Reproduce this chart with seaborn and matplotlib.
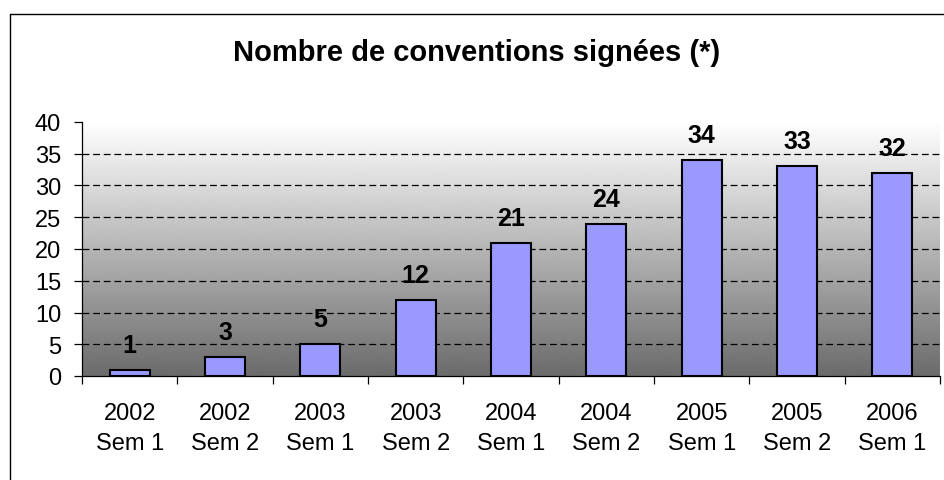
import matplotlib
matplotlib.use('Agg')
import matplotlib.pyplot as plt
from matplotlib.lines import Line2D
import seaborn as sns
import numpy as np
import pandas as pd

# chart data
years = ['2002', '2002', '2003', '2003', '2004', '2004', '2005', '2005', '2006']
semesters = ['Sem 1', 'Sem 2', 'Sem 1', 'Sem 2', 'Sem 1', 'Sem 2', 'Sem 1', 'Sem 2', 'Sem 1']
conventions = [1, 3, 5, 12, 21, 24, 34, 33, 32]
y_ticks = [0, 5, 10, 15, 20, 25, 30, 35, 40]
title = 'Nombre de conventions signées (*)'

sns.set_theme(style='white')
plt.rcParams['font.family'] = ['Liberation Sans', 'DejaVu Sans']
plt.rcParams['text.color'] = 'black'
plt.rcParams['xtick.color'] = 'black'
plt.rcParams['ytick.color'] = 'black'

df = pd.DataFrame({
    'periode': [f'{y}\n{s}' for y, s in zip(years, semesters)],
    'n': conventions,
})

fig = plt.figure(figsize=(9.44, 4.81), dpi=100)
ax = fig.add_axes([82 / 944, 1 - 377 / 481, (940 - 82) / 944, (377 - 123) / 481])

# gradient background, white at the top to dark grey at the bottom
grad = np.linspace(0.42, 1.0, 256).reshape(-1, 1)
ax.imshow(grad, cmap='gray', vmin=0, vmax=1, extent=[0, 1, 0, 1], transform=ax.transAxes,
          aspect='auto', origin='lower', zorder=0)

sns.barplot(data=df, x='periode', y='n', color='#9999ff', saturation=1, width=0.42,
            edgecolor='black', linewidth=1.5, ax=ax, zorder=3)

for yv in y_ticks[1:-1]:
    ax.axhline(yv, color='black', lw=0.9, linestyle=(0, (5.5, 3)), zorder=2)

for i, v in enumerate(conventions):
    ax.annotate(str(v), (i, v), xytext=(0, 13), textcoords='offset points',
                ha='center', va='baseline', fontsize=18, fontweight='bold', color='black', zorder=4)

ax.set_xlim(-0.5, len(conventions) - 0.5)
ax.set_ylim(0, 40)
ax.set_yticks(y_ticks)
ax.set_xlabel('')
ax.set_ylabel('')
ax.set_xticks(np.arange(-0.5, len(conventions), 1), minor=True)
ax.tick_params(axis='x', which='major', length=0, pad=19, labelsize=17, colors='black')
ax.tick_params(axis='x', which='minor', length=6, width=0.9, color='black', direction='out', bottom=True)
ax.tick_params(axis='y', length=6, width=0.9, color='black', direction='out', left=True,
               pad=9, labelsize=17, labelcolor='black')
for lbl in ax.get_xticklabels():
    lbl.set_linespacing(1.45)
ax.grid(False)
for side in ['top', 'right']:
    ax.spines[side].set_visible(False)
for side in ['left', 'bottom']:
    ax.spines[side].set_color('black')
    ax.spines[side].set_linewidth(0.9)

fig.text(477 / 944, 1 - 53 / 481, title, ha='center', va='center', fontsize=21,
         fontweight='bold', color='black')

# outer chart frame (cropped on the right and bottom)
fig.add_artist(Line2D([10 / 944, 10 / 944], [0, 1 - 15 / 481], transform=fig.transFigure, color='black', lw=1))
fig.add_artist(Line2D([10 / 944, 1], [1 - 15 / 481, 1 - 15 / 481], transform=fig.transFigure, color='black', lw=1))

fig.savefig('out.png', dpi=100)
plt.close(fig)
